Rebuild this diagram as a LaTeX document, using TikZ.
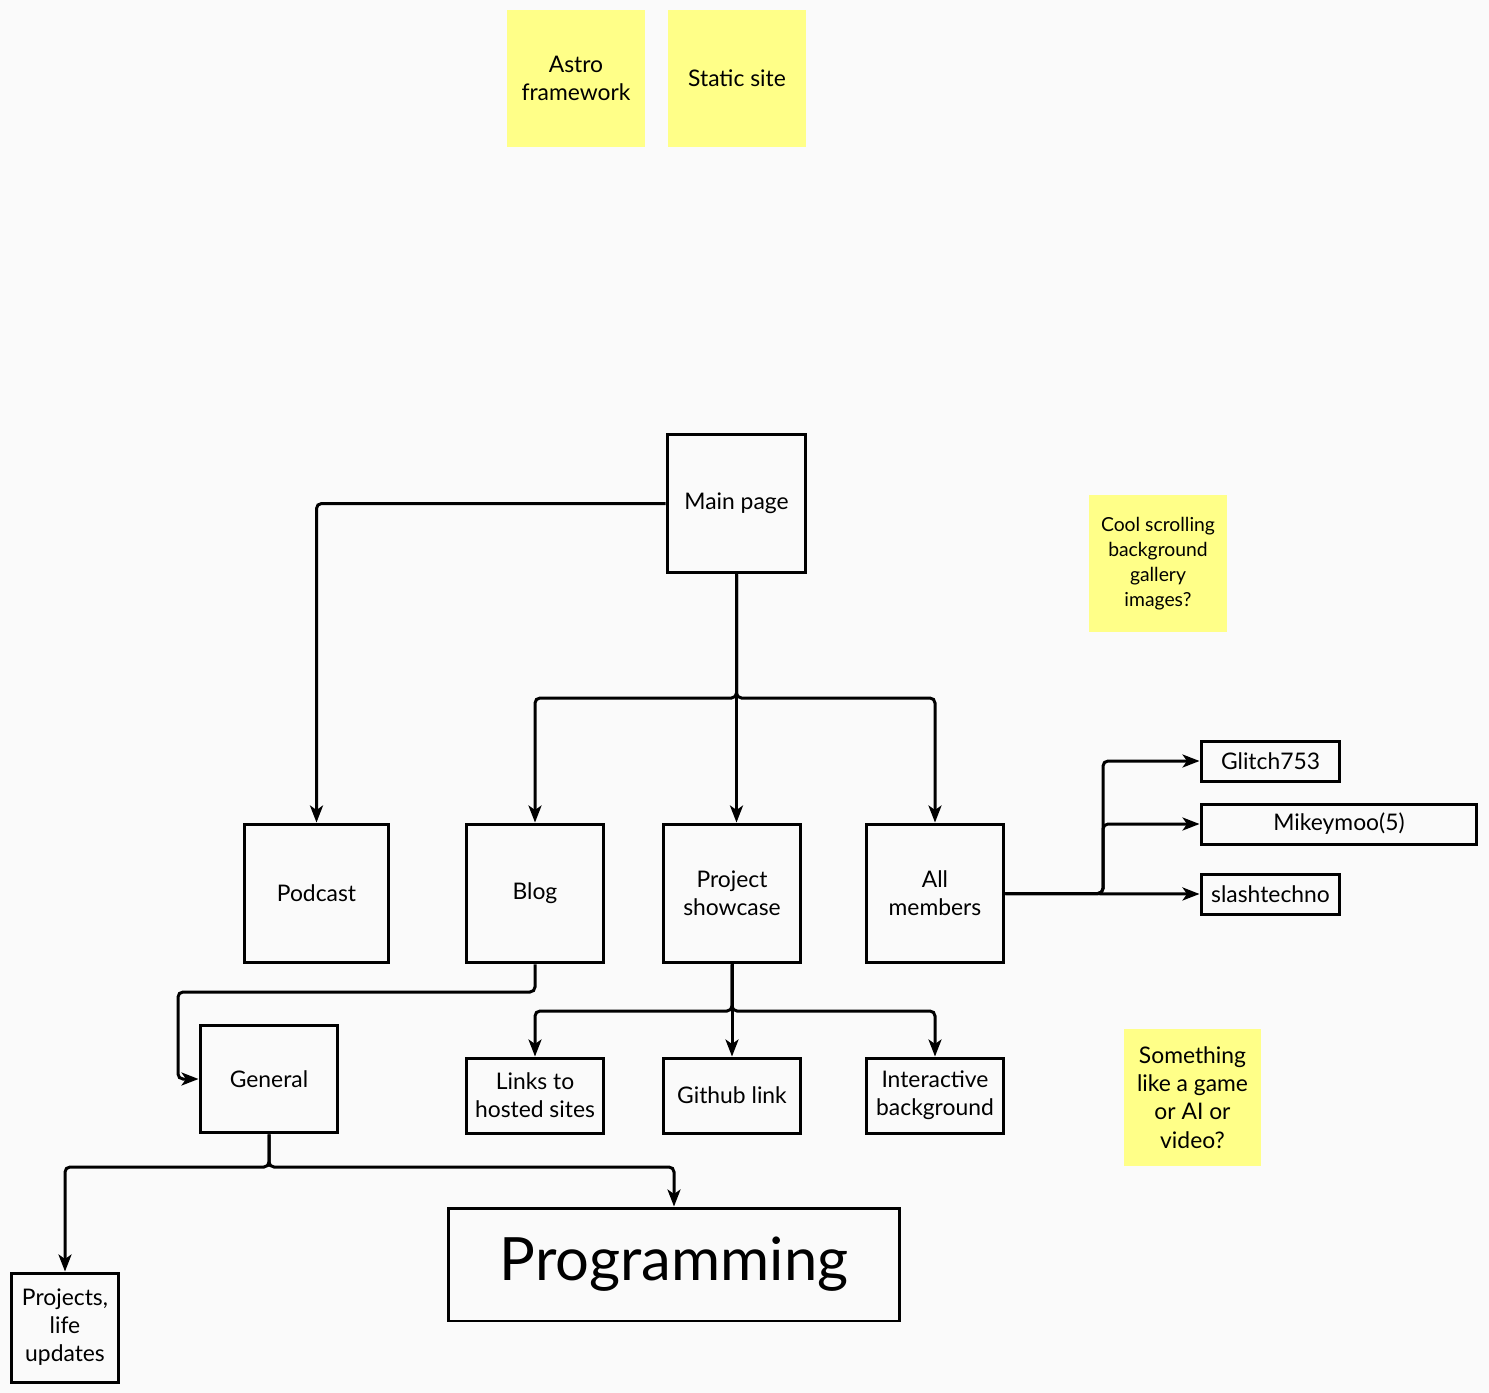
\documentclass[tikz,border=0pt]{standalone}
\usepackage{fontspec}
\setmainfont{Lato}
\usepackage{tikz}
\usetikzlibrary{
        arrows.meta,
        positioning
    }
\definecolor{paper}{HTML}{FAFAFA}
\definecolor{sticky}{HTML}{FFFF88}

\begin{document}
\begin{tikzpicture}
[x=0.02cm, y=-0.02cm,
baseshape/.style={rectangle, inner sep=0pt, align=center, font=\fontsize{13}{16}\selectfont},
box/.style={baseshape, draw=black, line width=0.06cm, fill=paper},
note/.style={baseshape, fill=sticky, minimum width=2.76cm, minimum height=2.74cm},
arrow/.style={line width=0.06cm, rounded corners=0.1cm, -{Stealth[length=0.34cm, width=0.26cm, inset=0.09cm]}},
]
\fill [paper] (0,0) rectangle (1489,1393);
\useasboundingbox (0,0) rectangle (1489,1393);

% sticky notes
\node (astro) [note] at (576,78.5) {Astro\\framework};
\node (static) [note] at (737,78.5) {Static site};
\node (scroll) [note, font=\fontsize{11}{14.2}\selectfont] at (1158,563.5) {Cool scrolling\\background\\gallery\\images?};
\node (game) [note] at (1192.5,1097.5) {Something\\like a game\\or AI or\\video?};

% pages
\node (main) [box, minimum width=2.78cm, minimum height=2.78cm] at (736.5,503.5) {Main page};
\node (podcast) [box, minimum width=2.9cm, minimum height=2.78cm] at (316.5,893.5) {Podcast};
\node (blog) [box, minimum width=2.76cm, minimum height=2.78cm] at (535,893.5) {Blog};
\node (showcase) [box, minimum width=2.76cm, minimum height=2.78cm] at (732,893.5) {Project\\showcase};
\node (members) [box, minimum width=2.76cm, minimum height=2.78cm] at (935,893.5) {All\\members};

\node (glitch) [box, minimum width=2.78cm, minimum height=0.8cm] at (1270.5,761) {Glitch753};
\node (mikey) [box, minimum width=5.52cm, minimum height=0.8cm] at (1339,824) {Mikeymoo(5)};
\node (slash) [box, minimum width=2.78cm, minimum height=0.8cm] at (1270.5,894) {slashtechno};

\node (general) [box, minimum width=2.76cm, minimum height=2.16cm] at (269,1079) {General};
\node (links) [box, minimum width=2.76cm, minimum height=1.5cm] at (535,1095.5) {Links to\\hosted sites};
\node (github) [box, minimum width=2.76cm, minimum height=1.5cm] at (732,1095.5) {Github link};
\node (interactive) [box, minimum width=2.76cm, minimum height=1.5cm] at (935,1095.5) {Interactive\\background};

\node (prog) [box, minimum width=9.04cm, minimum height=2.26cm, font=\fontsize{34}{40}\selectfont] at (674,1264.5) {Programming};
\node (projects) [box, minimum width=2.16cm, minimum height=2.18cm] at (65,1327.5) {Projects,\\life\\updates};

% junctions
\coordinate (mainsplit) at (736.5,698);
\coordinate (memsplit) at (1103,893.5);
\coordinate (blogturn) at (178,992);
\coordinate (showsplit) at (732,1011);
\coordinate (gensplit) at (269,1167);

\draw [arrow] (main.west) -| (podcast.north);
\draw [arrow] (main.south) -- (mainsplit) -| (blog.north);
\draw [arrow] (main.south) -- (main.south |- showcase.north);
\draw [arrow] (main.south) -- (mainsplit) -| (members.north);

\draw [arrow] (members.east) -- (memsplit) |- (glitch.west);
\draw [arrow] (members.east) -- (memsplit) |- (mikey.west);
\draw [arrow] (members.east) -- (slash.west);

\draw [arrow] (blog.south) |- (blogturn) |- (general.west);

\draw [arrow] (showcase.south) -- (showsplit) -| (links.north);
\draw [arrow] (showcase.south) -- (github.north);
\draw [arrow] (showcase.south) -- (showsplit) -| (interactive.north);

\draw [arrow] (general.south) -- (gensplit) -| (projects.north);
\draw [arrow] (general.south) -- (gensplit) -| (prog.north);

\end{tikzpicture}
\end{document}
